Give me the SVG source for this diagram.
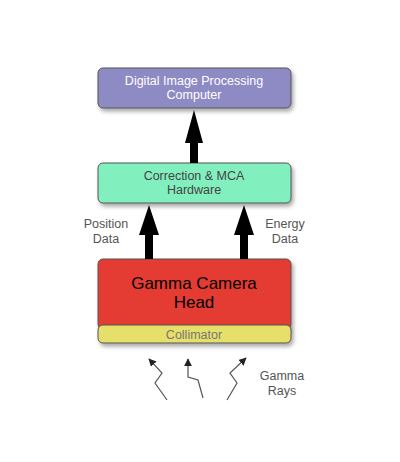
<svg xmlns="http://www.w3.org/2000/svg" width="400" height="462" viewBox="0 0 400 462">
<defs>
<filter id="sh" x="-10%" y="-20%" width="130%" height="160%">
<feGaussianBlur in="SourceAlpha" stdDeviation="2"/>
<feOffset dx="2" dy="3"/>
<feComponentTransfer><feFuncA type="linear" slope="0.35"/></feComponentTransfer>
<feMerge><feMergeNode/><feMergeNode in="SourceGraphic"/></feMerge>
</filter>
<marker id="ah" viewBox="0 0 10 10" refX="9" refY="5" markerWidth="6.5" markerHeight="6.5" orient="auto">
<path d="M0,0 L10,5 L0,10 z" fill="#222"/>
</marker>
</defs>
<style>
.box{stroke:#555;stroke-width:1;filter:url(#sh)}
.t{font-family:"Liberation Sans",Arial,sans-serif;text-anchor:middle}
.big{fill:#000;stroke:none}
.ray{fill:none;stroke:#555;stroke-width:1.2;marker-end:url(#ah)}
</style>
<rect width="400" height="462" fill="#fff"/>
<g id="computer">
<rect class="box" x="98" y="68" width="193" height="40" rx="5" fill="#8e8ac4"/>
<text class="t" x="194" y="85" font-size="12.5" fill="#fff">Digital Image Processing</text>
<text class="t" x="194" y="99" font-size="12.5" fill="#fff">Computer</text>
</g>
<g id="correction">
<rect class="box" x="98" y="163" width="193" height="40" rx="5" fill="#82efbf"/>
<text class="t" x="194" y="180" font-size="12.5" fill="#444">Correction &amp; MCA</text>
<text class="t" x="194" y="194" font-size="12.5" fill="#444">Hardware</text>
</g>
<g id="head">
<rect class="box" x="98" y="259" width="193" height="70" rx="5" fill="#e43a30"/>
<text class="t" x="194" y="289" font-size="17" fill="#000">Gamma Camera</text>
<text class="t" x="194" y="308" font-size="17" fill="#000">Head</text>
</g>
<g id="collimator">
<rect class="box" x="98" y="325" width="193" height="18" rx="5" fill="#e6df6a"/>
<text class="t" x="194" y="338.5" font-size="12.5" fill="#777">Collimator</text>
</g>
<g id="connectors">
<path class="big" d="M194,110 L203,143 L198,143 L198,163 L190,163 L190,143 L185,143 Z"/>
<path class="big" d="M149,205 L159,235 L153,235 L153,259 L145,259 L145,235 L139,235 Z"/>
<path class="big" d="M244,205 L254,235 L248,235 L248,259 L240,259 L240,235 L234,235 Z"/>
<path class="ray" d="M167,400 L155,383 L162,373 L149,359"/>
<path class="ray" d="M203,398 L198,380 L188,377 L188,359"/>
<path class="ray" d="M227,400 L237,383 L230,373 L246,358"/>
</g>
<g id="labels">
<text class="t" x="106" y="228" font-size="12.5" fill="#555">Position</text>
<text class="t" x="106" y="243" font-size="12.5" fill="#555">Data</text>
<text class="t" x="285" y="228" font-size="12.5" fill="#555">Energy</text>
<text class="t" x="285" y="243" font-size="12.5" fill="#555">Data</text>
<text class="t" x="282" y="380" font-size="12.5" fill="#555">Gamma</text>
<text class="t" x="282" y="395" font-size="12.5" fill="#555">Rays</text>
</g>
</svg>
